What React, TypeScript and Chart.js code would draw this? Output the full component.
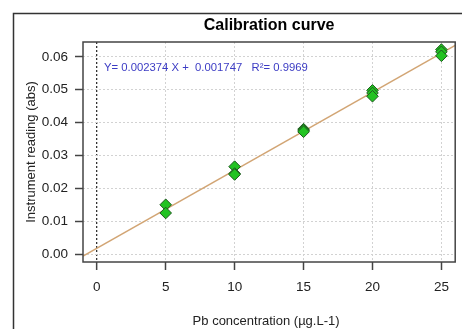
import React, { useEffect, useRef } from "react";
import { Chart, registerables } from "chart.js";

Chart.register(...registerables);

// Data
const concX = [5, 5, 10, 10, 10, 15, 15, 15, 20, 20, 20, 25, 25, 25];
const readingY = [0.0150, 0.0125, 0.0266, 0.0245, 0.0242, 0.0380, 0.0376, 0.0372, 0.0498, 0.0490, 0.0480, 0.0622, 0.0615, 0.0603];
const slope = 0.002374;
const intercept = 0.001747;
const rSquared = 0.9969;
const fitRange = [-1, 26];
const xTickValues = [0, 5, 10, 15, 20, 25];
const yTickValues = [0, 0.01, 0.02, 0.03, 0.04, 0.05, 0.06];

const titleText = "Calibration curve";
const xTitle = "Pb concentration (µg.L-1)";
const yTitle = "Instrument reading (abs)";
const equationText = `Y= ${slope.toFixed(6)} X +  ${intercept.toFixed(6)}   R²= ${rSquared.toFixed(4)}`;

const decorPlugin = {
  id: "decor",
  beforeDraw(chart: any) {
    const ctx = chart.ctx;
    ctx.save();
    ctx.fillStyle = "#ffffff";
    ctx.fillRect(0, 0, chart.width, chart.height);
    // outer frame
    ctx.strokeStyle = "#333333";
    ctx.lineWidth = 1.5;
    ctx.beginPath();
    ctx.moveTo(13.5, chart.height);
    ctx.lineTo(13.5, 13.5);
    ctx.lineTo(chart.width, 13.5);
    ctx.stroke();
    ctx.restore();
  },
  afterDatasetsDraw(chart: any) {
    const ctx = chart.ctx;
    const a = chart.chartArea;
    ctx.save();
    // plot box
    ctx.strokeStyle = "#444444";
    ctx.lineWidth = 1.5;
    ctx.strokeRect(a.left, a.top, a.right - a.left, a.bottom - a.top);
    // title
    const cx = (a.left + a.right) / 2;
    ctx.fillStyle = "#000000";
    ctx.font = "bold 16px 'Liberation Sans', Arial, sans-serif";
    ctx.textAlign = "center";
    ctx.textBaseline = "middle";
    ctx.fillText(titleText, cx, 26);
    // x title
    ctx.fillStyle = "#222222";
    ctx.font = "13px 'Liberation Sans', Arial, sans-serif";
    ctx.fillText(xTitle, cx - 3, 321);
    // y title
    ctx.save();
    ctx.translate(31, (a.top + a.bottom) / 2);
    ctx.rotate(-Math.PI / 2);
    ctx.fillText(yTitle, 0, 0);
    ctx.restore();
    // equation
    ctx.fillStyle = "#3c3cc4";
    ctx.font = "11.3px 'Liberation Sans', Arial, sans-serif";
    ctx.textAlign = "left";
    ctx.fillText(equationText, 104, 68);
    ctx.restore();
  },
};

export default function App() {
  const ref = useRef<HTMLCanvasElement | null>(null);
  useEffect(() => {
    document.body.style.margin = "0";
    const canvas = ref.current;
    if (!canvas) return;
    const points = concX.map((x, i) => ({ x, y: readingY[i] }));
    const fitLine = fitRange.map((x) => ({ x, y: slope * x + intercept }));
    const chart = new Chart(canvas, {
      type: "scatter",
      data: {
        datasets: [
          {
            data: points,
            pointStyle: "rectRot",
            pointRadius: 5.8,
            backgroundColor: "#22c322",
            borderColor: "#1f5a1f",
            borderWidth: 1,
            order: 0,
          },
          {
            type: "line",
            data: fitLine,
            borderColor: "#d2a574",
            borderWidth: 1.5,
            pointRadius: 0,
            fill: false,
            order: 1,
          } as any,
        ],
      },
      options: {
        responsive: false,
        animation: false,
        events: [],
        layout: { padding: { left: 0, top: 42, right: 2, bottom: 0 } },
        plugins: {
          legend: { display: false },
          tooltip: { enabled: false },
          title: { display: false },
        },
        scales: {
          x: {
            type: "linear",
            min: -1,
            max: 26,
            afterBuildTicks: (s: any) => {
              s.ticks = xTickValues.map((v) => ({ value: v }));
            },
            afterFit: (s: any) => {
              s.height = 67;
            },
            border: { display: false, dash: [2, 2] },
            grid: {
              color: (c: any) => (c.tick && c.tick.value === 0 ? "#333333" : "#d2d2d2"),
              lineWidth: (c: any) => (c.tick && c.tick.value === 0 ? 1.3 : 1),
              tickColor: "#444444",
              tickLength: 8,
              tickBorderDash: [],
              tickWidth: 1.5,
            },
            ticks: {
              color: "#222222",
              font: { family: "'Liberation Sans', Arial, sans-serif", size: 13.5 },
              padding: 9,
              maxRotation: 0,
              callback: (v: any) => String(v),
            },
          },
          y: {
            type: "linear",
            min: -0.0024,
            max: 0.0645,
            afterBuildTicks: (s: any) => {
              s.ticks = yTickValues.map((v) => ({ value: v }));
            },
            afterFit: (s: any) => {
              s.width = 83;
            },
            border: { display: false, dash: [2, 2] },
            grid: {
              color: "#d2d2d2",
              tickColor: "#444444",
              tickLength: 8,
              tickBorderDash: [],
              tickWidth: 1.5,
            },
            ticks: {
              color: "#222222",
              font: { family: "'Liberation Sans', Arial, sans-serif", size: 13.5 },
              padding: 7,
              callback: (v: any) => Number(v).toFixed(2),
            },
          },
        },
      },
      plugins: [decorPlugin],
    });
    return () => chart.destroy();
  }, []);
  return (
    <div style={{ width: 462, height: 329 }}>
      <canvas ref={ref} width={462} height={329} style={{ display: "block" }} />
    </div>
  );
}
